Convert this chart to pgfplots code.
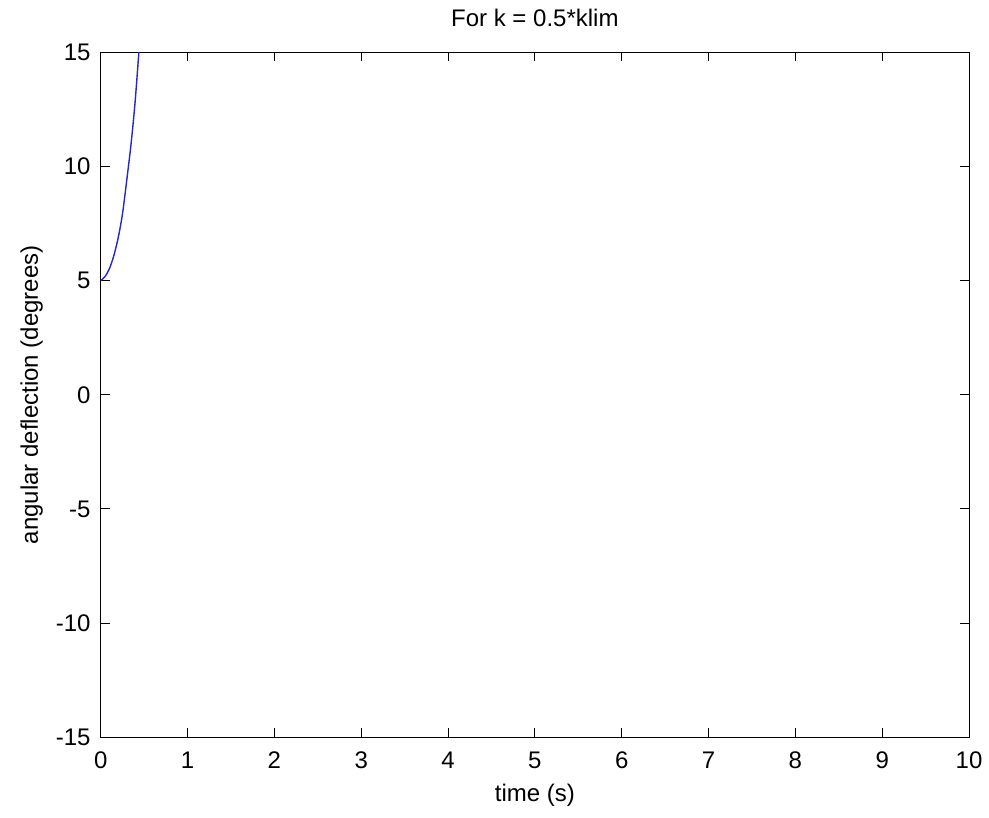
\documentclass[border=0pt]{standalone}
\usepackage{pgfplots}
\pgfplotsset{compat=1.18}
\usepackage{fontspec}
\setmainfont{Liberation Sans}
\usetikzlibrary{calc}
\begin{document}
\begin{tikzpicture}
\begin{axis}[
  scale only axis,
  width=868.3pt, height=685pt,
  xmin=0, xmax=10, ymin=-15, ymax=15,
  xtick={0,1,...,10}, ytick={-15,-10,...,15},
  tick align=inside,
  major tick length=9pt,
  axis line style={line width=1pt},
  every tick/.style={line width=1pt, black},
  font=\fontsize{24}{28}\selectfont,
  /pgf/number format/assume math mode=true,
  ticklabel style={font=\fontsize{24}{28}\selectfont},
  xticklabel style={inner sep=0pt, anchor=north, yshift=-14pt},
  yticklabel style={inner sep=0pt, anchor=east, xshift=-10pt},
  title={For k = 0.5*klim},
  title style={at={(axis description cs:0.5,1)}, anchor=base, yshift=20pt, inner sep=0pt},
  xlabel={time (s)},
  xlabel style={at={(axis description cs:0.5,0)}, anchor=base, yshift=-64.4pt, inner sep=0pt},
  ylabel={angular deflection (degrees)},
  ylabel style={at={([xshift=-62.7pt]axis description cs:0,0.5)}, anchor=base, inner sep=0pt},
  clip=true,
]
\addplot[color={rgb,1:red,0.15;green,0.15;blue,0.8}, line width=1.4pt, smooth] coordinates {
(0,5.0) (0.05,5.18) (0.1,5.52) (0.15,6.08) (0.2,6.85) (0.25,7.9) (0.3,9.4) (0.35,11.0) (0.395,12.77) (0.433,14.66) (0.455,15.8)
};
\end{axis}
\path ($(current axis.south west)+(-100.7pt,-79.7pt)$) rectangle ($(current axis.north east)+(20pt,52.3pt)$);
\end{tikzpicture}
\end{document}
